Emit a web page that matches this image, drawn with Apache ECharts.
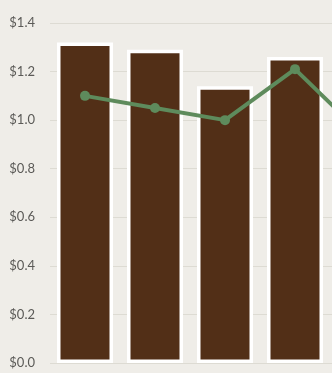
<!DOCTYPE html>
<html>
<head>
<meta charset="utf-8">
<script src="https://cdn.jsdelivr.net/npm/echarts@6/dist/echarts.min.js"></script>
<style>
  html, body { margin: 0; padding: 0; background: #efede8; }
  #chart { width: 332px; height: 373px; }
</style>
</head>
<body>
<div id="chart"></div>
<script>
// Quarterly price data: bars show price, line shows the comparison value
const categories = ['Q1', 'Q2', 'Q3', 'Q4', 'Q5'];
const barValues = [1.32, 1.29, 1.14, 1.26, null];
const lineValues = [1.10, 1.05, 1.00, 1.21, 0.93];
const yTicks = { min: 0, max: 1.4, interval: 0.2 };

const chart = echarts.init(document.getElementById('chart'), null, { renderer: 'canvas' });

chart.setOption({
  backgroundColor: '#efede8',
  animation: false,
  grid: { left: 50, top: 23, width: 350, height: 340, outerBoundsMode: 'none' },
  xAxis: {
    type: 'category',
    data: categories,
    axisLine: { show: false },
    axisTick: { show: false },
    axisLabel: { show: false },
    splitLine: { show: false }
  },
  yAxis: {
    type: 'value',
    min: yTicks.min,
    max: yTicks.max,
    interval: yTicks.interval,
    axisLine: { show: false },
    axisTick: { show: false },
    axisLabel: {
      margin: 15,
      color: '#5b5a57',
      fontFamily: 'Lato',
      fontSize: 13,
      formatter: v => '$' + v.toFixed(1)
    },
    splitLine: { lineStyle: { color: '#dddbd3', width: 1 } }
  },
  series: [
    {
      type: 'bar',
      data: barValues,
      barWidth: 56,
      itemStyle: { color: '#522f17', borderColor: '#ffffff', borderWidth: 3.5 },
      z: 2
    },
    {
      type: 'line',
      data: lineValues,
      symbol: 'circle',
      symbolSize: 10,
      lineStyle: { color: '#5e8b5c', width: 4 },
      itemStyle: { color: '#5e8b5c' },
      z: 3
    }
  ]
});
</script>
</body>
</html>
